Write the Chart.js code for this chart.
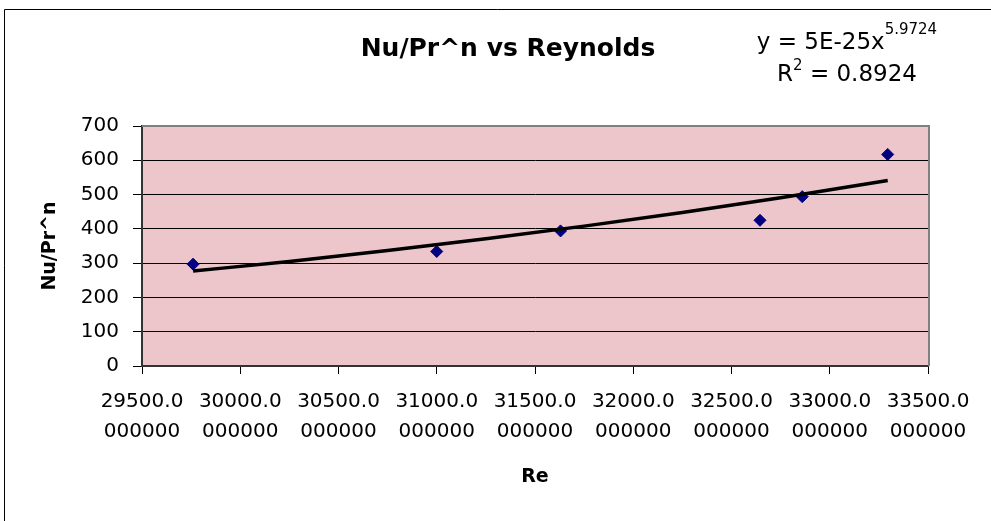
<!DOCTYPE html>
<html>
<head>
<meta charset="utf-8">
<script src="https://cdn.jsdelivr.net/npm/chart.js@4"></script>
<style>
  html, body { margin: 0; padding: 0; background: #fff; }
  canvas { display: block; }
</style>
</head>
<body>
<canvas id="myChart" width="991" height="521"></canvas>
<script>
// measured points (Re, Nu/Pr^n)
var reynolds = [29760, 31000, 31630, 32645, 32860, 33295];
var nuPr = [297, 334, 394, 425, 494, 617];

// power trendline
var trendRe = [29760, 30250, 30750, 31250, 31750, 32250, 32750, 33295];
var trendNu = [277, 305, 337, 371, 408, 448, 491, 541];

var yTicks = [0, 100, 200, 300, 400, 500, 600, 700];
var xTicks = [29500, 30000, 30500, 31000, 31500, 32000, 32500, 33000, 33500];

var chartTitle = "Nu/Pr^n vs Reynolds";
var eqMain = "y = 5E-25x";
var eqSup = "5.9724";
var r2Value = "0.8924";

var FONT = "'DejaVu Sans', sans-serif";

function toPoints(xs, ys) {
  var pts = [];
  for (var i = 0; i < xs.length; i++) {
    pts.push({x: xs[i], y: ys[i]});
  }
  return pts;
}

//background, outer frame, pink plot area and the text boxes
var excelLook = {
  id: "excelLook",
  beforeDraw: function (chart) {
    var ctx = chart.ctx;
    var a = chart.chartArea;
    ctx.save();
    ctx.fillStyle = "#ffffff";
    ctx.fillRect(0, 0, chart.width, chart.height);
    ctx.strokeStyle = "#000000";
    ctx.lineWidth = 1;
    ctx.beginPath();
    ctx.moveTo(4.5, chart.height);
    ctx.lineTo(4.5, 9.5);
    ctx.lineTo(chart.width, 9.5);
    ctx.stroke();
    ctx.fillStyle = "rgb(236, 198, 203)";
    ctx.fillRect(a.left, a.top, a.right - a.left, a.bottom - a.top);
    ctx.restore();
  },
  beforeDatasetsDraw: function (chart) {
    var ctx = chart.ctx;
    var a = chart.chartArea;
    ctx.save();
    ctx.strokeStyle = "#808080";
    ctx.lineWidth = 2;
    ctx.beginPath();
    ctx.moveTo(a.left, a.top);
    ctx.lineTo(a.right + 1, a.top);
    ctx.lineTo(a.right + 1, a.bottom);
    ctx.stroke();
    ctx.restore();
  },
  afterDraw: function (chart) {
    var ctx = chart.ctx;
    ctx.save();
    ctx.fillStyle = "#000000";
    ctx.textBaseline = "alphabetic";

    // title
    ctx.font = "bold 25px " + FONT;
    ctx.textAlign = "center";
    ctx.fillText(chartTitle, 508, 56);

    // trendline equation, two centred lines
    ctx.textAlign = "left";
    var cx = 847;
    ctx.font = "23px " + FONT;
    var w1 = ctx.measureText(eqMain).width;
    ctx.font = "15px " + FONT;
    var w1s = ctx.measureText(eqSup).width;
    var x1 = cx - (w1 + w1s) / 2;
    ctx.font = "23px " + FONT;
    ctx.fillText(eqMain, x1, 49);
    ctx.font = "15px " + FONT;
    ctx.fillText(eqSup, x1 + w1, 34);

    ctx.font = "23px " + FONT;
    var wr = ctx.measureText("R").width;
    var rest = " = " + r2Value;
    var wrest = ctx.measureText(rest).width;
    ctx.font = "15px " + FONT;
    var w2 = ctx.measureText("2").width;
    var x2 = cx - (wr + w2 + wrest) / 2;
    ctx.font = "23px " + FONT;
    ctx.fillText("R", x2, 81);
    ctx.fillText(rest, x2 + wr + w2, 81);
    ctx.font = "15px " + FONT;
    ctx.fillText("2", x2 + wr, 70);
    ctx.restore();
  }
};

var ctx = document.getElementById("myChart").getContext("2d");

var myChart = new Chart(ctx, {
  type: "scatter",
  data: {
    datasets: [
      {
        //trendline on top of the markers
        data: toPoints(trendRe, trendNu),
        showLine: true,
        borderColor: "#000000",
        borderWidth: 3.5,
        pointRadius: 0,
        cubicInterpolationMode: "monotone",
        fill: false,
        order: 0
      },
      {
        data: toPoints(reynolds, nuPr),
        showLine: false,
        pointStyle: "rectRot",
        pointRadius: 6,
        pointHoverRadius: 6,
        backgroundColor: "#000080",
        borderColor: "#000080",
        borderWidth: 1,
        order: 1
      }
    ]
  },
  options: {
    responsive: false,
    devicePixelRatio: 1,
    animation: false,
    layout: {
      padding: {top: 126, right: 63, left: 0, bottom: 0}
    },
    plugins: {
      legend: {display: false},
      tooltip: {enabled: false},
      title: {display: false}
    },
    scales: {
      x: {
        type: "linear",
        min: 29500,
        max: 33500,
        afterFit: function (scale) { scale.height = 155; },
        afterBuildTicks: function (scale) {
          scale.ticks = xTicks.map(function (v) { return {value: v}; });
        },
        border: {display: true, color: "#333333", width: 2},
        grid: {
          drawOnChartArea: false,
          drawTicks: true,
          tickLength: 8,
          tickColor: "#000000",
          tickWidth: 1
        },
        ticks: {
          color: "#000000",
          padding: 13,
          maxRotation: 0,
          autoSkip: false,
          font: {family: FONT, size: 20, lineHeight: 1.5},
          callback: function (value) {
            return [value.toFixed(1), "000000"];
          }
        },
        title: {
          display: true,
          text: "Re",
          color: "#000000",
          font: {family: FONT, size: 19, weight: "bold"},
          padding: {top: 4, bottom: 33}
        }
      },
      y: {
        type: "linear",
        min: 0,
        max: 700,
        afterFit: function (scale) { scale.width = 142; },
        afterBuildTicks: function (scale) {
          scale.ticks = yTicks.map(function (v) { return {value: v}; });
        },
        border: {display: true, color: "#333333", width: 2},
        grid: {
          drawTicks: true,
          tickLength: 9,
          lineWidth: 1,
          color: function (c) {
            return c.tick && c.tick.value === 700 ? "rgba(0,0,0,0)" : "#000000";
          },
          tickColor: "#000000"
        },
        ticks: {
          color: "#000000",
          padding: 14,
          font: {family: FONT, size: 20}
        },
        title: {
          display: true,
          text: "Nu/Pr^n",
          color: "#000000",
          font: {family: FONT, size: 19, weight: "bold"},
          padding: {top: 39, bottom: 0}
        }
      }
    }
  },
  plugins: [excelLook]
});
</script>
</body>
</html>
